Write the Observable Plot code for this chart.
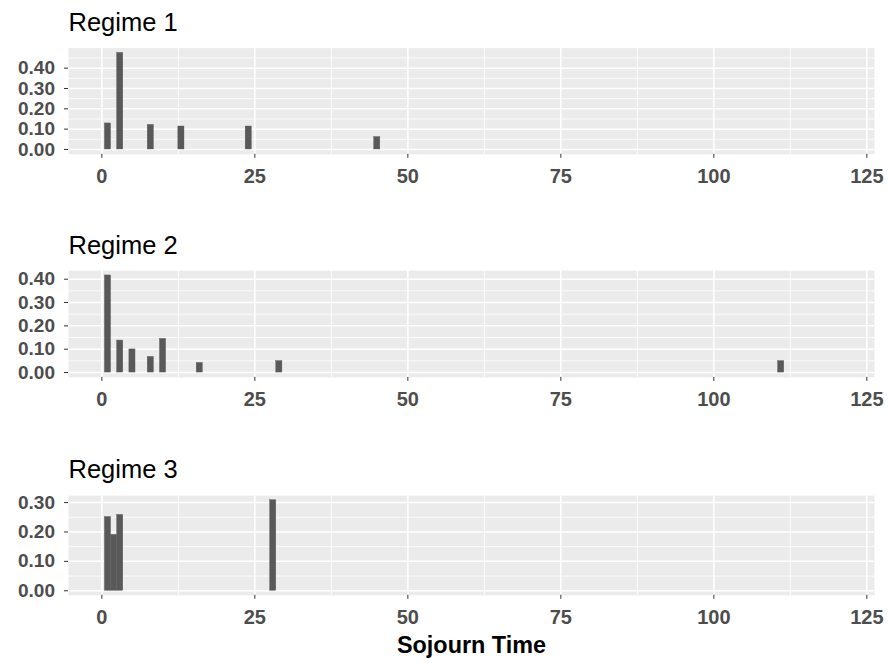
<!DOCTYPE html>
<html><head><meta charset="utf-8">
<script src="https://cdn.jsdelivr.net/npm/d3@7"></script>
<script src="https://cdn.jsdelivr.net/npm/@observablehq/plot@0.6"></script>
<style>
body{margin:0;background:#fff;}
#chart{width:888px;height:666px;}
#chart svg{display:block;}
</style>
</head><body><div id="chart"></div>
<script>
// ---- data ----
const titles = ["Regime 1", "Regime 2", "Regime 3"];
const regime1Time = [1, 3, 8, 13, 24, 45];
const regime1Prob = [0.128, 0.475, 0.121, 0.113, 0.113, 0.061];
const regime2Time = [1, 3, 5, 8, 10, 16, 29, 111];
const regime2Prob = [0.416, 0.137, 0.099, 0.067, 0.144, 0.041, 0.049, 0.049];
const regime3Time = [1, 2, 3, 28];
const regime3Prob = [0.251, 0.190, 0.258, 0.308];
const xTicks = [0, 25, 50, 75, 100, 125];
const xMinorTicks = [12.5, 37.5, 62.5, 87.5, 112.5];
const yTicks1 = [0, 0.1, 0.2, 0.3, 0.4];
const yTicks2 = [0, 0.1, 0.2, 0.3, 0.4];
const yTicks3 = [0, 0.1, 0.2, 0.3];
const yMinor1 = [0.05, 0.15, 0.25, 0.35, 0.45];
const yMinor2 = [0.05, 0.15, 0.25, 0.35];
const yMinor3 = [0.05, 0.15, 0.25];
const xLabel = "Sojourn Time";

// ---- layout ----
const panels = [
  {title: titles[0], t: regime1Time, p: regime1Prob, yt: yTicks1, ym: yMinor1, mt: 47.6, mb: 68.2, tdy: -16.6, xlab: false},
  {title: titles[1], t: regime2Time, p: regime2Prob, yt: yTicks2, ym: yMinor2, mt: 48.1, mb: 67.1, tdy: -16.6, xlab: false},
  {title: titles[2], t: regime3Time, p: regime3Prob, yt: yTicks3, ym: yMinor3, mt: 51.2, mb: 71.2, tdy: -17.9, xlab: true}
];
const font = "'Liberation Sans', Arial, Helvetica, sans-serif";
const container = document.getElementById("chart");

for (const pn of panels) {
  const rows = pn.t.map((t, i) => ({t, p: pn.p[i]}));
  const maxP = d3.max(pn.p);
  const marks = [
    Plot.frame({fill: "#EBEBEB", stroke: null}),
    Plot.gridY(pn.ym, {stroke: "white", strokeOpacity: 1, strokeWidth: 0.8}),
    Plot.gridX(xMinorTicks, {stroke: "white", strokeOpacity: 1, strokeWidth: 0.9}),
    Plot.gridY(pn.yt, {stroke: "white", strokeOpacity: 1, strokeWidth: 1.5}),
    Plot.gridX(xTicks, {stroke: "white", strokeOpacity: 1, strokeWidth: 1.5}),
    Plot.rectY(rows, {x1: d => d.t - 0.5, x2: d => d.t + 0.5, y1: 0, y2: d => d.p, fill: "#595959", stroke: "#595959", strokeWidth: 0.4, inset: 0}),
    Plot.axisX(xTicks, {tickSize: 4, tickPadding: 10, stroke: "#333333", fill: "#4D4D4D", fontSize: 20, fontWeight: "bold", label: null}),
    Plot.axisY(pn.yt, {tickSize: 4, tickPadding: 9.5, stroke: "#333333", fill: "#4D4D4D", fontSize: 19, fontWeight: "bold", tickFormat: d3.format(".2f"), label: null}),
    Plot.text([pn.title], {text: d => d, frameAnchor: "top-left", textAnchor: "start", lineAnchor: "bottom", dy: pn.tdy, fontSize: 25.5, fontWeight: "normal", fill: "black"})
  ];
  if (pn.xlab) {
    marks.push(Plot.text([xLabel], {text: d => d, frameAnchor: "bottom", textAnchor: "middle", lineAnchor: "bottom", dy: 57.9, fontSize: 23.4, fontWeight: "bold", fill: "black"}));
  }
  const chart = Plot.plot({
    width: 888,
    height: 222,
    marginLeft: 68,
    marginRight: 14,
    marginTop: pn.mt,
    marginBottom: pn.mb,
    x: {domain: [-5.45, 126.25]},
    y: {domain: [-0.05 * maxP, 1.05 * maxP]},
    style: {fontFamily: font, fontSize: "20px", background: "white", overflow: "visible"},
    marks
  });
  container.appendChild(chart);
}
</script>
</body></html>
